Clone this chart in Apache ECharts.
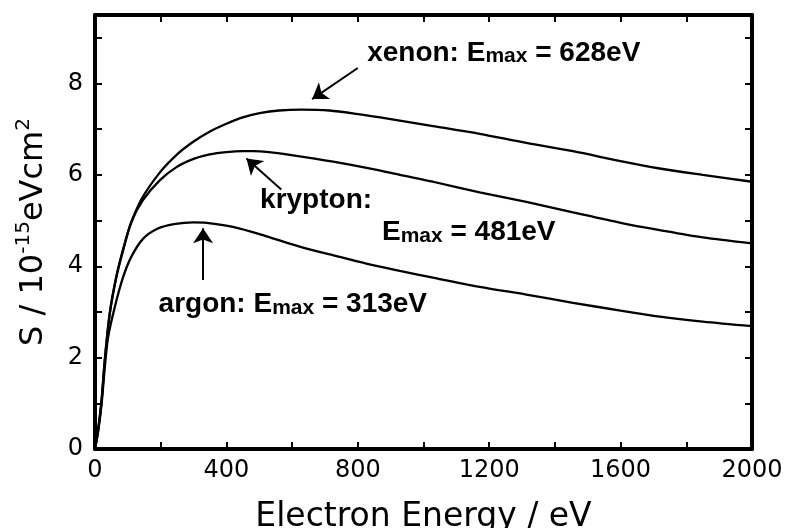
<!DOCTYPE html>
<html>
<head>
<meta charset="utf-8">
<script src="https://cdn.jsdelivr.net/npm/echarts@6/dist/echarts.min.js"></script>
<style>
    html, body { margin: 0; background: #fff; }
    #chart { width: 787px; height: 528px; }
</style>
</head>
<body>
<div id="chart"></div>
<script>
// values (energy in eV, S in 10^-15 eVcm^2)
var xenonE = [0, 10, 20, 30, 45, 65, 85, 106, 140, 197, 250, 298, 350, 400, 450, 501, 560, 628, 714, 800, 900, 1029, 1171, 1313, 1455, 1600, 1719, 1850, 2000];
var xenonS = [0, 0.45, 1.07, 1.97, 2.98, 3.78, 4.36, 4.87, 5.45, 6.05, 6.45, 6.72, 6.95, 7.12, 7.26, 7.35, 7.41, 7.43, 7.41, 7.33, 7.22, 7.07, 6.9, 6.7, 6.52, 6.3, 6.14, 6.0, 5.85];

var kryptonE = [0, 10, 20, 30, 45, 65, 85, 111, 146, 197, 248, 300, 349, 400, 451, 481, 530, 593, 725, 850, 928, 1029, 1171, 1313, 1455, 1600, 1719, 1850, 2000];
var kryptonS = [0, 0.45, 1.05, 1.95, 2.96, 3.76, 4.33, 4.98, 5.45, 5.88, 6.17, 6.35, 6.45, 6.5, 6.52, 6.52, 6.5, 6.44, 6.29, 6.12, 6.0, 5.85, 5.62, 5.41, 5.18, 4.95, 4.79, 4.63, 4.5];

var argonE = [0, 10, 20, 30, 40, 60, 85, 110, 146, 190, 240, 300, 340, 420, 520, 623, 726, 826, 928, 1029, 1171, 1313, 1455, 1600, 1719, 1850, 2000];
var argonS = [0, 0.4, 0.98, 1.8, 2.45, 3.1, 3.75, 4.2, 4.6, 4.82, 4.92, 4.96, 4.95, 4.86, 4.66, 4.43, 4.24, 4.06, 3.9, 3.75, 3.55, 3.38, 3.2, 3.03, 2.9, 2.79, 2.69];

var xTickLabels = [0, 400, 800, 1200, 1600, 2000];
var yTickLabels = [0, 2, 4, 6, 8];

function zip(xs, ys) {
    return xs.map(function (x, i) { return [x, ys[i]]; });
}

var labelRich = {
    b: { fontFamily: 'Liberation Sans', fontWeight: 'bold', fontSize: 28, color: '#000', lineHeight: 30, verticalAlign: 'bottom' },
    s: { fontFamily: 'Liberation Sans', fontWeight: 'bold', fontSize: 21, color: '#000', lineHeight: 14, verticalAlign: 'bottom' }
};

function note(coord, text) {
    return {
        coord: coord,
        label: { show: true, position: 'right', distance: 0, formatter: text, rich: labelRich }
    };
}

function arrow(from, to) {
    return [{ coord: from }, { coord: to }];
}

function curve(name, data, notes, arrows) {
    return {
        name: name,
        type: 'line',
        data: data,
        showSymbol: false,
        symbol: 'none',
        smooth: 0.3,
        lineStyle: { color: '#000', width: 2.3 },
        markPoint: {
            silent: true,
            symbol: 'circle',
            symbolSize: 1,
            itemStyle: { color: 'rgba(0,0,0,0)' },
            data: notes
        },
        markLine: {
            silent: true,
            symbol: ['none', 'arrow'],
            symbolSize: 15,
            lineStyle: { color: '#000', width: 2, type: 'solid' },
            label: { show: false },
            data: arrows
        }
    };
}

var tickStyle = { inside: true, length: 7, lineStyle: { color: '#000', width: 2 } };
var frameLine = { show: true, onZero: false, lineStyle: { color: '#000', width: 4 } };
var tickFont = { fontFamily: 'DejaVu Sans', fontSize: 24, color: '#000' };

var chart = echarts.init(document.getElementById('chart'));
chart.setOption({
    animation: false,
    backgroundColor: '#fff',
    grid: { left: 95, right: 35, top: 15, bottom: 79, outerBoundsMode: 'none', containLabel: false },
    xAxis: [{
        type: 'value',
        min: 0,
        max: 2000,
        interval: 200,
        position: 'bottom',
        axisLine: frameLine,
        axisTick: tickStyle,
        splitLine: { show: false },
        axisLabel: Object.assign({
            margin: 10,
            formatter: function (v) { return xTickLabels.indexOf(v) >= 0 ? String(v) : ''; }
        }, tickFont),
        name: 'Electron Energy / eV',
        nameLocation: 'middle',
        nameGap: 52,
        nameTextStyle: { fontFamily: 'DejaVu Sans', fontSize: 33, color: '#000' }
    }, {
        type: 'value',
        min: 0,
        max: 2000,
        interval: 200,
        position: 'top',
        axisLine: frameLine,
        axisTick: tickStyle,
        splitLine: { show: false },
        axisLabel: { show: false }
    }],
    yAxis: [{
        type: 'value',
        min: 0,
        max: 9.5,
        interval: 1,
        position: 'left',
        axisLine: frameLine,
        axisTick: tickStyle,
        splitLine: { show: false },
        axisLabel: Object.assign({
            margin: 12,
            formatter: function (v) { return yTickLabels.indexOf(v) >= 0 ? String(v) : ''; }
        }, tickFont),
        name: '{n|S / 10}{p|-15}{n|eVcm}{p|2}',
        nameLocation: 'middle',
        nameGap: 41,
        nameRotate: 90,
        nameTextStyle: {
            rich: {
                n: { fontFamily: 'DejaVu Sans', fontSize: 32, color: '#000', lineHeight: 40 },
                p: { fontFamily: 'DejaVu Sans', fontSize: 20, color: '#000', lineHeight: 14, verticalAlign: 'top' }
            }
        }
    }, {
        type: 'value',
        min: 0,
        max: 9.5,
        interval: 1,
        position: 'right',
        axisLine: frameLine,
        axisTick: tickStyle,
        splitLine: { show: false },
        axisLabel: { show: false }
    }],
    series: [
        curve('xenon', zip(xenonE, xenonS),
            [note([827, 8.69], '{b|xenon: E}{s|max}{b| = 628eV}')],
            [arrow([800, 8.34], [661, 7.66])]),
        curve('krypton', zip(kryptonE, kryptonS),
            [note([501, 5.47], '{b|krypton:}'),
             note([872, 4.76], '{b|E}{s|max}{b| = 481eV}')],
            [arrow([567, 5.68], [461, 6.36])]),
        curve('argon', zip(argonE, argonS),
            [note([192, 3.19], '{b|argon: E}{s|max}{b| = 313eV}')],
            [arrow([329, 3.70], [329, 4.83])])
    ]
});
</script>
</body>
</html>
